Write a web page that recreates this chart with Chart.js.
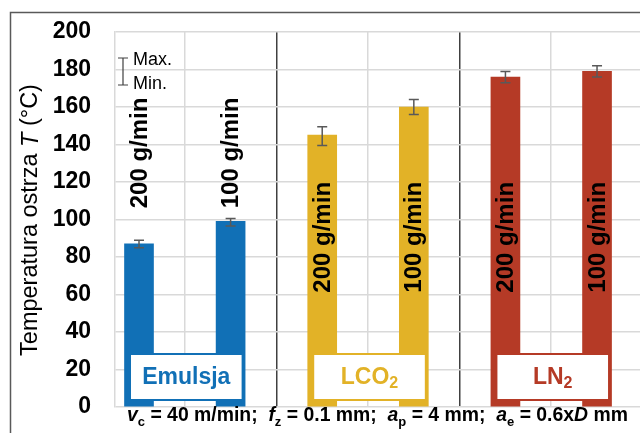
<!DOCTYPE html>
<html>
<head>
<meta charset="utf-8">
<script src="https://cdn.jsdelivr.net/npm/chart.js@4.4.0/dist/chart.umd.min.js"></script>
<style>
  html, body { margin: 0; padding: 0; background: #fff; }
  canvas { display: block; }
</style>
</head>
<body>
<canvas id="myChart" width="640" height="433"></canvas>
<script>
// data
const groups = ['Emulsja', 'LCO', 'LN'];
const groupSub = ['', '2', '2'];
const flows = ['200 g/min', '100 g/min'];
const temps = [87, 99, 145, 160, 176, 179];
const tempMax = [89, 100.5, 149.5, 164, 179, 182];
const tempMin = [85, 96.5, 139.5, 156, 173, 176];
const yTicks = [0, 20, 40, 60, 80, 100, 120, 140, 160, 180, 200];

const colors = ['#1170b6', '#e2b227', '#b53a26'];
const FONT = '"Liberation Sans", Arial, sans-serif';

const points = temps.map((t, i) => ({ x: i + 1, y: t }));
const barColors = temps.map((t, i) => colors[Math.floor(i / 2)]);

// draw text made of several runs (italic, subscripts...)
function runsWidth(ctx, runs) {
  let w = 0;
  runs.forEach(r => { ctx.font = r.font; w += ctx.measureText(r.t).width; });
  return w;
}
function drawRuns(ctx, runs, x, y) {
  runs.forEach(r => {
    ctx.font = r.font;
    ctx.fillText(r.t, x, y + (r.dy || 0));
    x += ctx.measureText(r.t).width;
  });
}

const extras = {
  id: 'extras',
  beforeDraw(chart) {
    const ctx = chart.ctx;
    ctx.save();
    ctx.strokeStyle = '#595959';
    ctx.lineWidth = 1.5;
    ctx.beginPath();
    ctx.moveTo(10.5, 433);
    ctx.lineTo(10.5, 12.5);
    ctx.lineTo(640, 12.5);
    ctx.stroke();
    ctx.restore();
  },
  afterDatasetsDraw(chart) {
    const ctx = chart.ctx;
    const xs = chart.scales.x, ys = chart.scales.y;
    ctx.save();

    // group label boxes
    groups.forEach((g, gi) => {
      const x1 = xs.getPixelForValue(gi * 2 + 1) - 15 + 6;
      const x2 = xs.getPixelForValue(gi * 2 + 2) + 15 - 3;
      const yb = ys.getPixelForValue(0) - 7;
      const yt = ys.getPixelForValue(0) - 53;
      ctx.fillStyle = '#fff';
      ctx.fillRect(x1, yt, x2 - x1, yb - yt);
      ctx.strokeStyle = colors[gi];
      ctx.lineWidth = 2;
      ctx.strokeRect(x1, yt, x2 - x1, yb - yt);
      const runs = [{ t: g, font: 'bold 23px ' + FONT }];
      if (groupSub[gi]) runs.push({ t: groupSub[gi], font: 'bold 16px ' + FONT, dy: 6 });
      const w = runsWidth(ctx, runs);
      ctx.fillStyle = colors[gi];
      ctx.textBaseline = 'middle';
      ctx.textAlign = 'left';
      drawRuns(ctx, runs, (x1 + x2) / 2 - w / 2, (yt + yb) / 2 + 1);
    });

    // rotated flow labels
    temps.forEach((t, i) => {
      const x = xs.getPixelForValue(i + 1);
      const mid = ys.getPixelForValue(i < 2 ? 135.5 : 90.5);
      ctx.save();
      ctx.translate(x + 1, mid);
      ctx.rotate(-Math.PI / 2);
      ctx.font = 'bold 24px ' + FONT;
      ctx.fillStyle = '#000';
      ctx.textAlign = 'center';
      ctx.textBaseline = 'middle';
      ctx.fillText(flows[i % 2], 0, 0);
      ctx.restore();
    });

    // error bars
    ctx.strokeStyle = '#595959';
    ctx.lineWidth = 1.5;
    temps.forEach((t, i) => {
      const x = xs.getPixelForValue(i + 1);
      const a = ys.getPixelForValue(tempMax[i]);
      const b = ys.getPixelForValue(tempMin[i]);
      ctx.beginPath();
      ctx.moveTo(x, a); ctx.lineTo(x, b);
      ctx.moveTo(x - 5, a); ctx.lineTo(x + 5, a);
      ctx.moveTo(x - 5, b); ctx.lineTo(x + 5, b);
      ctx.stroke();
    });
    ctx.restore();
  },
  afterDraw(chart) {
    const ctx = chart.ctx;
    ctx.save();
    ctx.fillStyle = '#000';
    ctx.textAlign = 'left';

    // Max./Min. key
    ctx.strokeStyle = '#404040';
    ctx.lineWidth = 1.2;
    ctx.beginPath();
    ctx.moveTo(123, 58); ctx.lineTo(123, 85);
    ctx.moveTo(118, 58); ctx.lineTo(128, 58);
    ctx.moveTo(118, 85); ctx.lineTo(128, 85);
    ctx.stroke();
    ctx.font = '18px ' + FONT;
    ctx.textBaseline = 'middle';
    ctx.fillText('Max.', 133, 60);
    ctx.fillText('Min.', 133, 84);

    // y title
    const title = [
      { t: 'Temperatura ostrza ', font: '23.5px ' + FONT },
      { t: 'T', font: 'italic 23.5px ' + FONT },
      { t: ' (\u00B0C)', font: '23.5px ' + FONT }
    ];
    ctx.save();
    ctx.translate(31, 220);
    ctx.rotate(-Math.PI / 2);
    const tw = runsWidth(ctx, title);
    drawRuns(ctx, title, -tw / 2, 0);
    ctx.restore();

    // cutting parameters below the axis
    const B = 'bold 19.4px ' + FONT, I = 'italic bold 19.4px ' + FONT, S = 'bold 13px ' + FONT;
    const note = [
      { t: 'v', font: I }, { t: 'c', font: S, dy: 5 }, { t: ' = 40 m/min;  ', font: B },
      { t: 'f', font: I }, { t: 'z', font: S, dy: 5 }, { t: ' = 0.1 mm;  ', font: B },
      { t: 'a', font: I }, { t: 'p', font: S, dy: 5 }, { t: ' = 4 mm;  ', font: B },
      { t: 'a', font: I }, { t: 'e', font: S, dy: 5 }, { t: ' = 0.6x', font: B },
      { t: 'D', font: I }, { t: ' mm', font: B }
    ];
    ctx.textBaseline = 'alphabetic';
    drawRuns(ctx, note, 127, 421);
    ctx.restore();
  }
};

const ctx = document.getElementById('myChart').getContext('2d');
new Chart(ctx, {
  type: 'bar',
  data: {
    datasets: [{
      data: points,
      backgroundColor: barColors,
      borderWidth: 0,
      barThickness: 29
    }]
  },
  options: {
    responsive: false,
    animation: false,
    layout: { padding: { top: 32, bottom: 26, left: 0, right: 0 } },
    plugins: { legend: { display: false }, tooltip: { enabled: false } },
    scales: {
      x: {
        type: 'linear',
        min: 0.738,
        max: 6.469,
        offset: false,
        afterBuildTicks: s => { s.ticks = [1.5, 2.5, 3.5, 4.5, 5.5].map(v => ({ value: v })); },
        ticks: { display: false },
        grid: {
          offset: false,
          drawTicks: false,
          color: c => (c.tick && (c.tick.value === 2.5 || c.tick.value === 4.5)) ? '#404040' : '#d9d9d9',
          lineWidth: 1.5
        },
        border: { display: false },
        afterFit: s => { s.height = 0; }
      },
      y: {
        min: 0,
        max: 200,
        afterBuildTicks: s => { s.ticks = yTicks.map(v => ({ value: v })); },
        ticks: { color: '#000', font: { family: FONT, size: 23, weight: 'bold' }, padding: 24 },
        grid: { color: '#d9d9d9', lineWidth: 1.5, drawTicks: false },
        border: { color: '#d9d9d9', width: 1.5 },
        afterFit: s => { s.width = 115; s.paddingTop = 0; s.paddingBottom = 0; }
      }
    }
  },
  plugins: [extras]
});
</script>
</body>
</html>
